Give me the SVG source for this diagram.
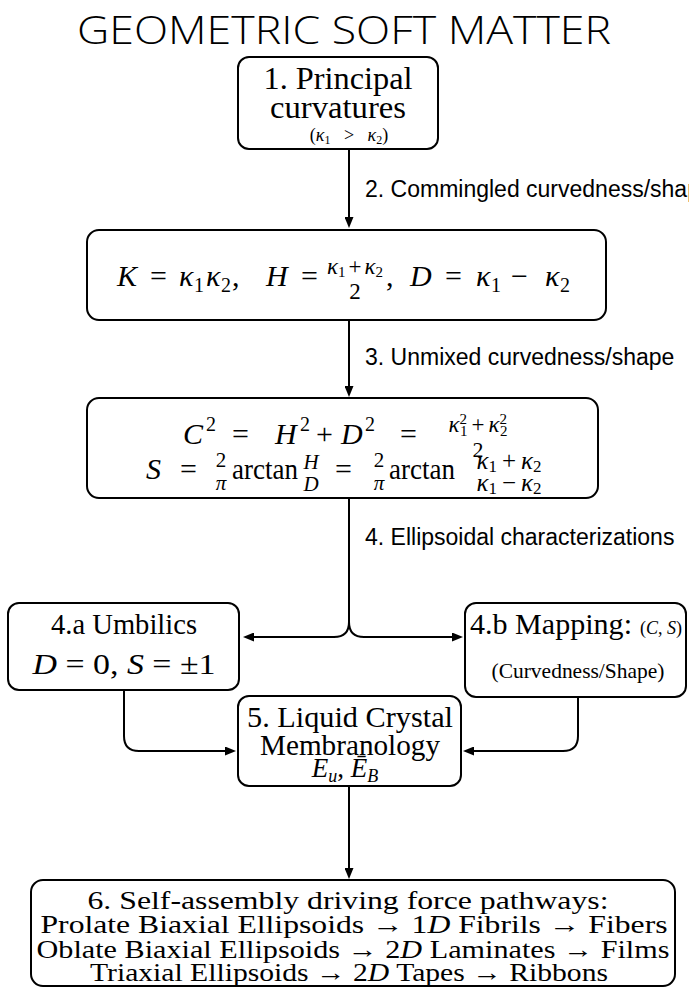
<svg xmlns="http://www.w3.org/2000/svg" width="689" height="987" viewBox="0 0 689 987">
<defs>
<style>
.box{fill:#fff;stroke:#000;stroke-width:2}
.conn{fill:none;stroke:#000;stroke-width:2}
.rm{font-family:"Liberation Serif","DejaVu Serif",serif;fill:#000}
.it{font-family:"Liberation Serif","DejaVu Serif",serif;font-style:italic;fill:#000}
.sans{font-family:"Liberation Sans",Arial,sans-serif;font-size:23px;fill:#000}
.title{font-family:"Open Sans","Liberation Sans",sans-serif;font-weight:300;font-size:39px;fill:#000}
.c{text-anchor:middle}
</style>
<marker id="ah" viewBox="0 0 11 9" refX="1" refY="4.5" markerWidth="11" markerHeight="9" markerUnits="userSpaceOnUse" orient="auto"><path d="M0,0 L11,4.5 L0,9 z" fill="#000"/></marker>
</defs>
<rect width="689" height="987" fill="#fff"/>
<text id="title" class="title c" x="344" y="44" textLength="534" lengthAdjust="spacingAndGlyphs">GEOMETRIC SOFT MATTER</text>

<g id="connectors">
<path class="conn" d="M349 149 V218" marker-end="url(#ah)"/>
<path class="conn" d="M349 321 V387" marker-end="url(#ah)"/>
<path class="conn" d="M349 498 V622 Q349 637 334 637 H253" marker-end="url(#ah)"/>
<path class="conn" d="M349 622 Q349 637 364 637 H453" marker-end="url(#ah)"/>
<path class="conn" d="M124 691 V736 Q124 751 139 751 H226" marker-end="url(#ah)"/>
<path class="conn" d="M578 698 V736 Q578 751 563 751 H473" marker-end="url(#ah)"/>
<path class="conn" d="M349 787 V869" marker-end="url(#ah)"/>
<text class="sans" x="365" y="197">2. Commingled curvedness/shape</text>
<text class="sans" x="365" y="365">3. Unmixed curvedness/shape</text>
<text class="sans" x="365" y="545">4. Ellipsoidal characterizations</text>
</g>

<g id="n1">
<rect class="box" x="238" y="57" width="200" height="92" rx="11"/>
<text class="rm c" x="338" y="89" font-size="31" textLength="149" lengthAdjust="spacingAndGlyphs">1. Principal</text>
<text class="rm c" x="338" y="118" font-size="31" textLength="136" lengthAdjust="spacingAndGlyphs">curvatures</text>
<text class="rm c" x="349" y="141" font-size="18">(<tspan class="it">κ</tspan><tspan font-size="12" dy="3">1</tspan><tspan dy="-3">&#160;&#160;&#160;&gt;&#160;&#160;&#160;</tspan><tspan class="it">κ</tspan><tspan font-size="12" dy="3">2</tspan><tspan dy="-3">)</tspan></text>
</g>

<g id="n2">
<rect class="box" x="87" y="230" width="519" height="90" rx="12"/>
<g font-size="30">
<text class="it" x="117" y="286">K</text>
<text class="rm" x="150" y="286">=</text>
<text class="it" x="179" y="286">κ</text>
<text class="rm" x="194" y="292" font-size="20">1</text>
<text class="it" x="206" y="286">κ</text>
<text class="rm" x="221" y="292" font-size="20">2</text>
<text class="rm" x="232" y="286">,</text>
<text class="it" x="266" y="286">H</text>
<text class="rm" x="301" y="286">=</text>
<text class="rm c" x="355" y="274" font-size="23"><tspan class="it">κ</tspan><tspan font-size="15" dy="3">1</tspan><tspan dx="3" dy="-3">+</tspan><tspan class="it" dx="3">κ</tspan><tspan font-size="15" dy="3">2</tspan></text>
<text class="rm c" x="355" y="299" font-size="23">2</text>
<text class="rm" x="386" y="286">,</text>
<text class="it" x="410" y="286">D</text>
<text class="rm" x="445" y="286">=</text>
<text class="it" x="476" y="286">κ</text>
<text class="rm" x="491" y="292" font-size="20">1</text>
<text class="rm" x="511" y="286">−</text>
<text class="it" x="545" y="286">κ</text>
<text class="rm" x="560" y="292" font-size="20">2</text>
</g>
</g>

<g id="n3">
<rect class="box" x="87" y="398" width="511" height="100" rx="12"/>
<g font-size="30">
<text class="it" x="183" y="444">C</text>
<text class="rm" x="206" y="431" font-size="20">2</text>
<text class="rm" x="232" y="444">=</text>
<text class="it" x="275" y="444">H</text>
<text class="rm" x="300" y="431" font-size="20">2</text>
<text class="rm" x="316" y="444">+</text>
<text class="it" x="341" y="444">D</text>
<text class="rm" x="365" y="431" font-size="20">2</text>
<text class="rm" x="400" y="444">=</text>
<text class="rm c" x="478" y="432" font-size="23"><tspan class="it">κ</tspan><tspan font-size="15" dy="-8">2</tspan><tspan font-size="15" dx="-7" dy="12">1</tspan><tspan dx="4" dy="-4">+</tspan><tspan class="it" dx="4">κ</tspan><tspan font-size="15" dy="-8">2</tspan><tspan font-size="15" dx="-7" dy="12">2</tspan></text>
<text class="rm c" x="478" y="457" font-size="22">2</text>

<text class="it" x="146" y="479">S</text>
<text class="rm" x="180" y="479">=</text>
<text class="rm c" x="221" y="467" font-size="21">2</text>
<text class="it c" x="221" y="490" font-size="21">π</text>
<text class="rm" x="232" y="479" textLength="66" lengthAdjust="spacingAndGlyphs">arctan</text>
<text class="it c" x="311" y="469" font-size="21">H</text>
<text class="it c" x="311" y="491" font-size="21">D</text>
<text class="rm" x="335" y="479">=</text>
<text class="rm c" x="379" y="467" font-size="21">2</text>
<text class="it c" x="379" y="490" font-size="21">π</text>
<text class="rm" x="389" y="479" textLength="66" lengthAdjust="spacingAndGlyphs">arctan</text>
<text class="rm c" x="509" y="469" font-size="25"><tspan class="it">κ</tspan><tspan font-size="17" dy="3">1</tspan><tspan dx="5" dy="-3">+</tspan><tspan class="it" dx="5">κ</tspan><tspan font-size="17" dy="3">2</tspan></text>
<text class="rm c" x="509" y="491" font-size="25"><tspan class="it">κ</tspan><tspan font-size="17" dy="3">1</tspan><tspan dx="5" dy="-3">−</tspan><tspan class="it" dx="5">κ</tspan><tspan font-size="17" dy="3">2</tspan></text>
</g>
</g>

<g id="n4a">
<rect class="box" x="8" y="603" width="231" height="87" rx="11"/>
<text class="rm c" x="124" y="634" font-size="29" textLength="146" lengthAdjust="spacingAndGlyphs">4.a Umbilics</text>
<text class="rm c" x="124" y="674" font-size="29" textLength="183" lengthAdjust="spacingAndGlyphs"><tspan class="it">D</tspan> = 0, <tspan class="it">S</tspan> = ±1</text>
</g>

<g id="n4b">
<rect class="box" x="465" y="603" width="221" height="94" rx="11"/>
<text class="rm" x="470" y="634" font-size="30" textLength="162" lengthAdjust="spacingAndGlyphs">4.b Mapping:</text>
<text class="rm" x="640" y="634" font-size="18">(<tspan class="it">C</tspan>, <tspan class="it">S</tspan>)</text>
<text class="rm c" x="578" y="678" font-size="21" textLength="173" lengthAdjust="spacingAndGlyphs">(Curvedness/Shape)</text>
</g>

<g id="n5">
<rect class="box" x="238" y="696" width="223" height="90" rx="11"/>
<text class="rm c" x="350" y="727" font-size="30" textLength="206" lengthAdjust="spacingAndGlyphs">5. Liquid Crystal</text>
<text class="rm c" x="350" y="755" font-size="30" textLength="180" lengthAdjust="spacingAndGlyphs">Membranology</text>
<text class="rm c" x="345" y="777" font-size="27"><tspan class="it">E</tspan><tspan class="it" font-size="18" dy="5">u</tspan><tspan dy="-5">, </tspan><tspan class="it">Ē</tspan><tspan class="it" font-size="18" dy="5">B</tspan></text>
</g>

<g id="n6">
<rect class="box" x="31" y="880" width="644" height="106" rx="12"/>
<text class="rm c" x="348" y="909" font-size="25" textLength="521" lengthAdjust="spacingAndGlyphs">6. Self-assembly driving force pathways:</text>
<text class="rm c" x="354" y="933" font-size="25" textLength="627" lengthAdjust="spacingAndGlyphs">Prolate Biaxial Ellipsoids → 1<tspan class="it">D</tspan> Fibrils → Fibers</text>
<text class="rm c" x="353" y="958" font-size="25" textLength="633" lengthAdjust="spacingAndGlyphs">Oblate Biaxial Ellipsoids → 2<tspan class="it">D</tspan> Laminates → Films</text>
<text class="rm c" x="349" y="981" font-size="25" textLength="518" lengthAdjust="spacingAndGlyphs">Triaxial Ellipsoids →  2<tspan class="it">D</tspan> Tapes → Ribbons</text>
</g>
</svg>
